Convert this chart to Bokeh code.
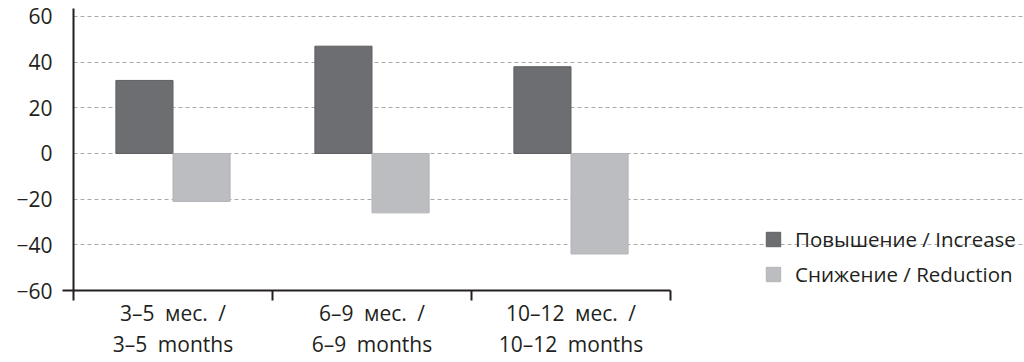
from bokeh.plotting import figure
from bokeh.models import FixedTicker, Range1d, Legend, LegendItem, ColumnDataSource
from bokeh.embed import file_html
from bokeh.resources import INLINE

SP = "\u2002"
categories = [f"3–5{SP}мес.{SP}/\n3–5{SP}months",
              f"6–9{SP}мес.{SP}/\n6–9{SP}months",
              f"10–12{SP}мес.{SP}/\n10–12{SP}months"]
increase = [32, 47, 38]
reduction = [-21, -26, -44]
y_ticks = [-60, -40, -20, 0, 20, 40, 60]
series_names = ["Повышение / Increase", "Снижение / Reduction"]
colors = ["#6d6e71", "#bcbdc0"]

FONT = "Open Sans"
TXT = "#231f20"

n = len(categories)
centers = [i + 0.5 for i in range(n)]
bw = 0.287
src = ColumnDataSource(dict(
    x_inc=[c - bw / 2 for c in centers],
    x_red=[c + bw / 2 for c in centers],
    inc=increase,
    red=reduction,
))

# frame spans the full width; the chart area is limited to [0, n] by bounds
W, H = 1024, 362
LEFT, TOP, BOTTOM = 73, 8, 72
x_end = n * (W - LEFT) / 597
p = figure(width=W, height=H, output_backend="svg", toolbar_location=None,
           x_range=Range1d(0, x_end), y_range=Range1d(-60, 63.5))
p.min_border_left = LEFT
p.min_border_right = 0
p.min_border_top = TOP
p.min_border_bottom = BOTTOM
p.outline_line_color = None
p.background_fill_color = "white"

r1 = p.vbar(x="x_inc", top="inc", bottom=0, width=bw, source=src,
            fill_color=colors[0], line_color="#5f6063", line_width=1)
r2 = p.vbar(x="x_red", top="red", bottom=0, width=bw, source=src,
            fill_color=colors[1], line_color="#b3b4b7", line_width=1)

# axes
xa = p.xaxis[0]
xa.bounds = (0, n)
xa.ticker = FixedTicker(ticks=centers, minor_ticks=[float(i) for i in range(n + 1)])
xa.major_label_overrides = {c: lab for c, lab in zip(centers, categories)}
xa.major_tick_line_color = None
xa.major_tick_out = 0
xa.minor_tick_out = 10
xa.minor_tick_in = 0
xa.minor_tick_line_width = 2
xa.minor_tick_line_color = TXT
xa.axis_line_width = 2
xa.axis_line_color = TXT
xa.major_label_text_font = FONT
xa.major_label_text_font_size = "21px"
xa.major_label_text_color = TXT
xa.major_label_standoff = -2
xa.major_label_text_line_height = 1.125

ya = p.yaxis[0]
ya.ticker = FixedTicker(ticks=y_ticks, minor_ticks=[y_ticks[0]])
ya.major_label_overrides = {t: (str(t).replace("-", "−")) for t in y_ticks}
ya.major_tick_line_color = None
ya.major_tick_out = 0
ya.minor_tick_out = 11
ya.minor_tick_in = 0
ya.minor_tick_line_width = 2
ya.minor_tick_line_color = TXT
ya.axis_line_width = 2
ya.axis_line_color = TXT
ya.major_label_text_font = FONT
ya.major_label_text_font_size = "21px"
ya.major_label_text_color = TXT
ya.major_label_standoff = 10

p.xgrid.grid_line_color = None
p.ygrid.ticker = FixedTicker(ticks=y_ticks)
p.ygrid.bounds = (0, n)
p.ygrid.grid_line_color = "#aaaaaa"
p.ygrid.grid_line_dash = "4 3"
p.ygrid.grid_line_width = 1

legend = Legend(items=[LegendItem(label=series_names[0], renderers=[r1]),
                       LegendItem(label=series_names[1], renderers=[r2])],
                location=(691, 2), orientation="vertical")
legend.margin = 0
legend.padding = 0
legend.border_line_color = None
legend.background_fill_alpha = 0
legend.glyph_width = 18
legend.glyph_height = 18
legend.label_height = 18
legend.spacing = 7
legend.label_standoff = 13
legend.label_text_font = FONT
legend.label_text_font_size = "20.5px"
legend.label_text_color = TXT
p.add_layout(legend, "center")

open("out.html", "w").write(file_html(p, INLINE))
